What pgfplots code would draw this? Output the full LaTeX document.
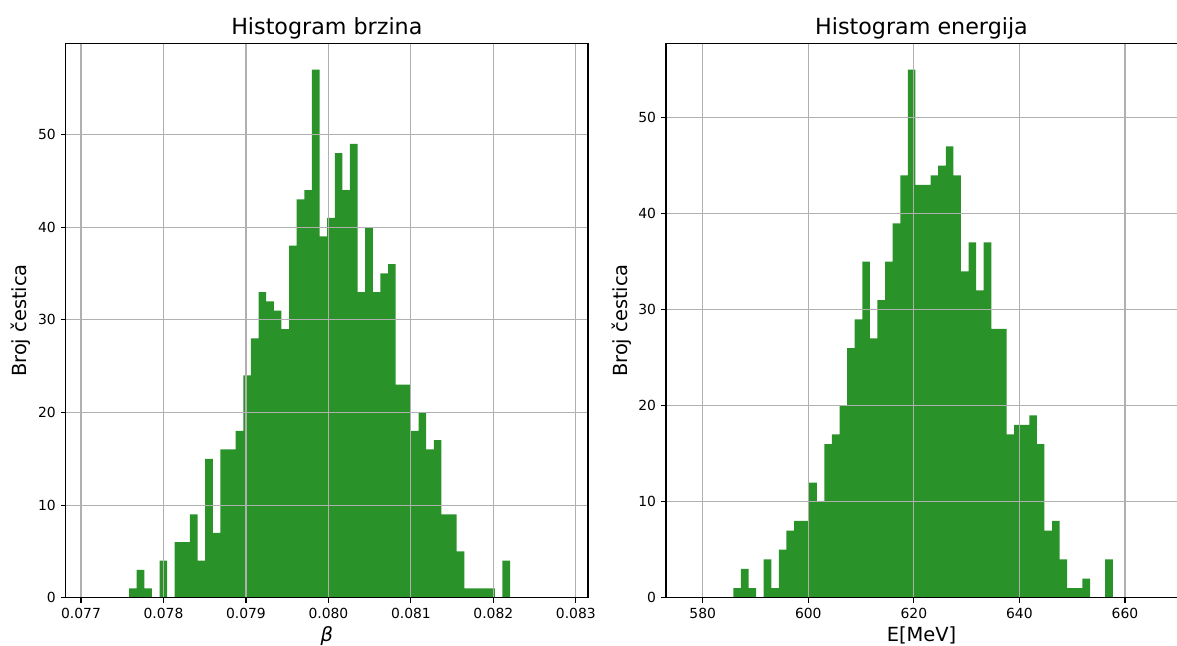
\documentclass[border=0pt]{standalone}
\usepackage{pgfplots}
\pgfplotsset{compat=1.18}
\usepackage{fontspec}
\setmainfont{DejaVu Sans}
\definecolor{hgreen}{RGB}{41,146,41}
\definecolor{gridgray}{RGB}{176,176,176}

\pgfplotsset{
  hstyle/.style={
    scale only axis,
    height=399.17pt,
    ymin=0,
    axis on top,
    grid=major,
    grid style={gridgray, line width=0.8pt},
    axis line style={line width=0.8pt, black},
    tick align=outside,
    tick pos=left,
    major tick length=3.5pt,
    every tick/.style={black, line width=0.8pt},
    tick label style={font=\fontsize{10}{12}\selectfont},
    /pgf/number format/assume math mode=true,
    xticklabel style={anchor=north, inner sep=0pt},
    yticklabel style={anchor=east, inner sep=0pt},
    xticklabel shift=3.5pt,
    yticklabel shift=3.5pt,
    title style={font=\fontsize{16}{19}\selectfont, at={(axis description cs:0.5,1)}, anchor=base, inner sep=0pt},
    label style={font=\fontsize{14}{17}\selectfont},
    ytick={0,10,20,30,40,50},
    scaled x ticks=false,
    scaled y ticks=false,
  }
}

\begin{document}
\begin{tikzpicture}
\useasboundingbox (0,0) rectangle (847.44pt,464.4pt);
\begin{axis}[hstyle,
  at={(47.30pt,34.06pt)}, anchor=south west,
  width=376.06pt,
  xmin=0.076814, xmax=0.083148, ymax=59.85,
  xtick={0.077,0.078,0.079,0.080,0.081,0.082,0.083},
  xticklabels={0.077,0.078,0.079,0.080,0.081,0.082,0.083},
  title={Histogram brzina},
  xlabel={\itshape β},
  ylabel={Broj čestica},
  xlabel style={at={(axis description cs:0.5,-0.0782)}, anchor=base, inner sep=0pt},
  ylabel style={at={(axis description cs:-0.0742,0.5)}, anchor=base, inner sep=0pt},
]
\addplot[ybar interval, fill=hgreen, draw=none] coordinates {
(0.0775820,1) (0.0776744,3) (0.0777668,1) (0.0778592,0) (0.0779516,4)
(0.0780440,0) (0.0781364,6) (0.0782288,6) (0.0783212,9) (0.0784136,4)
(0.0785060,15) (0.0785984,7) (0.0786908,16) (0.0787832,16) (0.0788756,18)
(0.0789680,24) (0.0790604,28) (0.0791528,33) (0.0792452,32) (0.0793376,31)
(0.0794300,29) (0.0795224,38) (0.0796148,43) (0.0797072,44) (0.0797996,57)
(0.0798920,39) (0.0799844,41) (0.0800768,48) (0.0801692,44) (0.0802616,49)
(0.0803540,33) (0.0804464,40) (0.0805388,33) (0.0806312,35) (0.0807236,36)
(0.0808160,23) (0.0809084,23) (0.0810008,18) (0.0810932,20) (0.0811856,16)
(0.0812780,17) (0.0813704,9) (0.0814628,9) (0.0815552,5) (0.0816476,1)
(0.0817400,1) (0.0818324,1) (0.0819248,1) (0.0820172,0) (0.0821096,4)
(0.0822020,4)
};
\end{axis}
\begin{axis}[hstyle,
  at={(479.52pt,34.06pt)}, anchor=south west,
  width=367.92pt,
  every non boxed y axis/.style={},
  axis y line*=left,
  y axis line style={-},
  xmin=573.04, xmax=669.86, ymax=57.75,
  xtick={580,600,620,640,660},
  title={Histogram energija},
  xlabel={E[MeV]},
  ylabel={Broj čestica},
  xlabel style={at={(axis description cs:0.5,-0.0782)}, anchor=base, inner sep=0pt},
  ylabel style={at={(axis description cs:-0.0758,0.5)}, anchor=base, inner sep=0pt},
]
\addplot[ybar interval, fill=hgreen, draw=none] coordinates {
(585.79,1) (587.23,3) (588.67,1) (590.10,0) (591.54,4)
(592.98,1) (594.42,5) (595.86,7) (597.29,8) (598.73,8)
(600.17,12) (601.61,10) (603.05,16) (604.48,17) (605.92,20)
(607.36,26) (608.80,29) (610.24,35) (611.67,27) (613.11,31)
(614.55,35) (615.99,39) (617.43,44) (618.86,55) (620.30,43)
(621.74,43) (623.18,44) (624.62,45) (626.05,47) (627.49,44)
(628.93,34) (630.37,37) (631.81,32) (633.24,37) (634.68,28)
(636.12,28) (637.56,17) (639.00,18) (640.43,18) (641.87,19)
(643.31,16) (644.75,7) (646.19,8) (647.62,4) (649.06,1)
(650.50,1) (651.94,2) (653.38,0) (654.81,0) (656.25,4)
(657.69,4)
};
\end{axis}
\end{tikzpicture}
\end{document}
